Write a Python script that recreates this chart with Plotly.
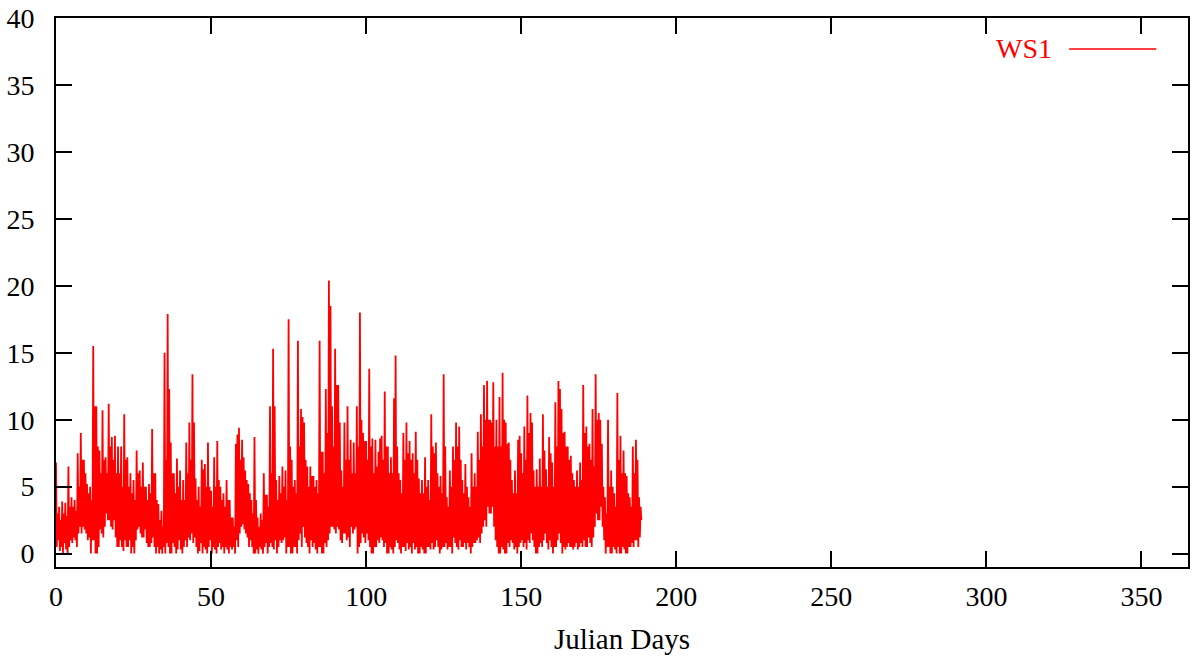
import plotly.graph_objects as go

# six-hourly wind speed readings, one entry per Julian day (0..188)
# order within a day: first peak, first lull, second peak, second lull
peak_a = [
    6.8, 3.5, 3.9, 3.8, 6.5, 4.2, 4.0, 7.5, 9.0, 7.0,
    5.2, 5.0, 15.5, 11.0, 7.7, 10.7, 7.2, 11.2, 8.7, 8.8,
    8.0, 8.0, 10.4, 7.2, 6.0, 5.5, 7.7, 6.2, 6.8, 5.0,
    5.2, 9.3, 6.0, 3.7, 3.2, 15.0, 17.9, 8.3, 6.0, 7.1,
    6.2, 5.5, 8.3, 9.8, 13.4, 5.6, 5.0, 7.0, 6.7, 8.3,
    4.7, 7.2, 8.4, 5.0, 4.5, 5.5, 4.0, 2.7, 8.2, 9.4,
    8.5, 6.2, 5.2, 4.0, 8.7, 2.7, 3.0, 6.0, 4.4, 11.0,
    15.3, 5.5, 5.8, 6.5, 6.2, 17.5, 7.0, 5.5, 15.9, 10.8,
    9.8, 6.5, 6.5, 5.8, 5.5, 15.9, 7.6, 12.3, 20.4, 11.0,
    15.3, 12.6, 6.2, 9.8, 11.0, 8.5, 8.3, 11.0, 18.0, 9.0,
    8.4, 13.8, 8.6, 8.5, 7.6, 8.8, 12.1, 8.0, 7.2, 11.6,
    8.0, 5.5, 9.0, 9.8, 8.4, 7.5, 9.1, 5.6, 5.5, 7.2,
    5.5, 10.4, 7.5, 6.0, 5.8, 13.4, 4.2, 6.2, 8.0, 9.8,
    9.5, 5.5, 6.7, 4.2, 7.5, 6.0, 9.1, 10.4, 12.6, 12.9,
    10.0, 12.8, 10.0, 11.7, 13.5, 9.8, 8.3, 5.5, 6.2, 8.5,
    7.5, 9.5, 11.8, 10.5, 6.2, 6.3, 7.1, 10.4, 6.3, 8.7,
    6.8, 11.3, 12.9, 10.8, 9.1, 8.0, 7.3, 5.5, 6.2, 6.8,
    12.6, 9.5, 8.2, 10.8, 13.4, 10.5, 8.2, 4.2, 10.0, 6.2,
    4.5, 12.0, 8.8, 7.7, 5.8, 4.2, 8.0, 8.5, 4.2,
]
low_a = [
    0.5, 0.2, 0.0, 0.3, 0.5, 0.8, 1.0, 1.5, 1.5, 1.8,
    1.0, 0.0, 1.0, 0.0, 1.8, 1.2, 3.0, 2.5, 1.8, 1.2,
    0.5, 0.5, 1.0, 0.5, 0.0, 0.0, 1.8, 1.5, 1.2, 0.8,
    0.5, 1.2, 0.0, 0.0, 0.0, 0.0, 0.5, 0.0, 0.5, 0.3,
    0.3, 0.5, 0.5, 1.0, 0.8, 0.5, 0.2, 0.0, 0.3, 0.5,
    0.0, 0.3, 0.5, 0.3, 0.0, 0.3, 0.5, 0.5, 1.0, 1.5,
    2.2, 1.5, 0.5, 0.5, 0.0, 0.0, 0.3, 0.5, 0.0, 0.8,
    0.3, 0.0, 1.0, 1.0, 0.0, 0.5, 0.0, 0.5, 1.0, 0.5,
    1.2, 0.5, 1.0, 0.8, 0.0, 0.5, 0.0, 0.5, 1.5, 2.0,
    1.5, 1.8, 0.8, 1.5, 1.2, 2.0, 1.8, 0.0, 0.8, 1.2,
    1.5, 0.5, 0.0, 0.5, 0.8, 1.0, 0.8, 0.0, 0.3, 0.5,
    0.8, 0.0, 0.5, 0.8, 0.5, 0.8, 0.5, 0.0, 0.3, 0.0,
    0.5, 0.8, 0.5, 0.5, 0.3, 0.5, 0.3, 0.5, 1.2, 0.5,
    1.0, 0.5, 0.3, 0.5, 0.5, 0.8, 1.2, 1.5, 2.5, 3.5,
    3.0, 2.0, 0.5, 0.0, 0.3, 0.0, 0.5, 0.8, 0.5, 0.5,
    1.0, 0.8, 1.0, 1.5, 0.5, 0.0, 0.8, 1.0, 0.8, 1.0,
    0.0, 0.5, 1.5, 0.0, 0.3, 0.8, 0.5, 0.5, 0.3, 0.8,
    1.0, 0.5, 0.8, 1.2, 3.0, 2.5, 2.0, 0.0, 0.5, 0.0,
    0.3, 0.5, 0.0, 0.3, 0.0, 0.5, 0.5, 1.0, 1.2,
]
peak_b = [
    3.0, 2.5, 3.0, 2.8, 3.5, 3.5, 3.2, 5.0, 7.0, 6.0,
    4.5, 4.0, 11.0, 8.0, 6.0, 7.0, 6.0, 8.0, 7.0, 6.0,
    6.0, 5.0, 7.0, 5.0, 4.5, 4.0, 6.0, 5.0, 5.0, 4.0,
    4.5, 6.0, 4.0, 2.5, 2.0, 7.0, 12.3, 6.0, 4.5, 5.0,
    4.0, 4.0, 6.0, 7.0, 9.8, 4.0, 3.5, 6.3, 5.0, 5.0,
    3.5, 5.0, 5.5, 4.0, 3.5, 4.0, 2.7, 2.0, 8.9, 7.0,
    7.2, 5.5, 4.5, 3.0, 4.0, 2.0, 2.5, 4.4, 3.5, 6.0,
    11.0, 4.0, 4.5, 5.0, 4.0, 8.0, 5.0, 4.5, 8.0, 10.2,
    7.0, 5.0, 5.8, 5.0, 4.5, 7.6, 6.0, 9.0, 18.5, 8.0,
    12.6, 9.8, 5.0, 7.0, 7.0, 6.0, 6.0, 8.0, 10.0, 8.4,
    7.0, 8.0, 6.0, 6.5, 8.6, 7.0, 8.0, 6.0, 6.0, 14.8,
    6.0, 4.5, 7.0, 7.5, 7.0, 6.0, 7.0, 4.5, 4.5, 5.0,
    4.0, 8.0, 8.3, 5.0, 4.5, 8.0, 3.5, 5.0, 7.0, 8.0,
    7.0, 4.5, 5.0, 3.5, 5.0, 5.0, 7.0, 8.0, 10.0, 10.0,
    9.8, 8.0, 8.0, 8.0, 10.0, 8.2, 7.0, 4.5, 4.5, 8.8,
    6.0, 7.0, 9.0, 9.8, 5.0, 5.0, 5.0, 7.7, 5.0, 7.5,
    5.0, 8.0, 12.3, 9.0, 8.0, 7.0, 6.0, 5.0, 5.0, 5.5,
    9.0, 8.0, 7.0, 6.5, 10.0, 10.0, 5.0, 3.0, 5.0, 5.0,
    3.5, 7.0, 6.0, 6.0, 4.5, 3.5, 6.0, 7.0, 3.5,
]
low_b = [
    1.0, 0.5, 0.8, 0.0, 1.0, 1.2, 0.5, 2.0, 2.0, 1.5,
    1.2, 1.0, 0.0, 0.5, 1.5, 2.0, 2.5, 2.0, 2.5, 0.5,
    1.0, 0.2, 0.5, 1.0, 0.5, 1.0, 2.0, 1.2, 1.8, 0.5,
    0.8, 0.5, 0.5, 0.3, 0.5, 0.8, 0.0, 0.8, 0.0, 1.0,
    0.0, 1.0, 1.2, 1.5, 1.2, 0.0, 0.8, 0.5, 0.0, 1.0,
    0.5, 0.0, 0.8, 0.5, 0.5, 0.0, 0.3, 0.0, 0.5, 2.0,
    1.8, 1.2, 1.0, 0.0, 0.3, 0.5, 0.0, 0.8, 0.5, 0.5,
    1.0, 0.5, 0.8, 1.2, 0.5, 0.0, 0.5, 0.0, 1.5, 2.0,
    0.8, 0.0, 0.5, 0.3, 0.5, 0.0, 0.8, 1.0, 2.0, 1.8,
    2.0, 1.0, 1.5, 1.0, 0.5, 1.5, 2.0, 0.5, 1.5, 0.8,
    1.0, 0.0, 0.5, 1.0, 1.2, 0.5, 0.0, 0.5, 0.0, 1.0,
    0.3, 0.5, 0.2, 0.3, 0.0, 0.3, 0.0, 0.5, 0.0, 0.5,
    0.3, 0.3, 1.0, 0.0, 0.5, 0.8, 0.5, 0.0, 0.8, 0.3,
    0.5, 0.8, 0.8, 0.0, 0.8, 1.0, 0.8, 2.0, 2.0, 3.0,
    3.5, 1.0, 0.0, 0.5, 0.0, 0.8, 1.0, 0.3, 0.0, 0.8,
    0.5, 0.3, 0.8, 1.0, 0.0, 0.5, 0.5, 1.5, 0.3, 0.5,
    0.5, 1.0, 0.8, 0.5, 0.5, 0.5, 0.3, 0.8, 0.5, 0.5,
    0.5, 1.2, 0.5, 2.0, 2.5, 3.5, 1.0, 0.5, 0.0, 0.5,
    0.0, 0.0, 0.5, 0.0, 0.5, 0.8, 1.0, 0.5, 2.5,
]

days = []
ws1 = []
for d, vals in enumerate(zip(peak_a, low_a, peak_b, low_b)):
    for k, v in enumerate(vals):
        days.append(d + 0.25 * k)
        ws1.append(v)

RED = "#ff0000"
FONT = "Liberation Serif, Times New Roman, serif"

fig = go.Figure(go.Scatter(x=days, y=ws1, mode="lines", name="WS1",
                           line=dict(color=RED, width=1.8), showlegend=False))

axis_style = dict(showline=True, linecolor="black", linewidth=2, mirror="ticks",
                  ticks="inside", ticklen=16, tickwidth=2, tickcolor="black",
                  showgrid=False, zeroline=False)

fig.update_xaxes(range=[0, 365], tickvals=[0, 50, 100, 150, 200, 250, 300, 350],
                 title=dict(text="Julian Days", standoff=18, font=dict(size=29)),
                 ticklabelstandoff=3, **axis_style)
fig.update_yaxes(range=[-1, 40], tickvals=[0, 5, 10, 15, 20, 25, 30, 35, 40],
                 ticklabelstandoff=14, **axis_style)

# gnuplot-style key: label then line sample, top right
fig.add_annotation(x=0.882, y=0.945, xref="paper", yref="paper", text="WS1", showarrow=False,
                   xanchor="right", yanchor="middle", font=dict(color=RED, size=28, family=FONT))
fig.add_shape(type="line", xref="paper", yref="paper", x0=0.895, x1=0.972, y0=0.9435, y1=0.9435,
              line=dict(color=RED, width=1.5))

fig.update_layout(
    width=1193, height=661,
    margin=dict(l=56, r=3, t=18, b=94),
    paper_bgcolor="white", plot_bgcolor="white",
    font=dict(family=FONT, size=28, color="black"),
)

fig.write_html("out.html", config={"displayModeBar": False},
               post_script="document.body.style.margin='0';")
